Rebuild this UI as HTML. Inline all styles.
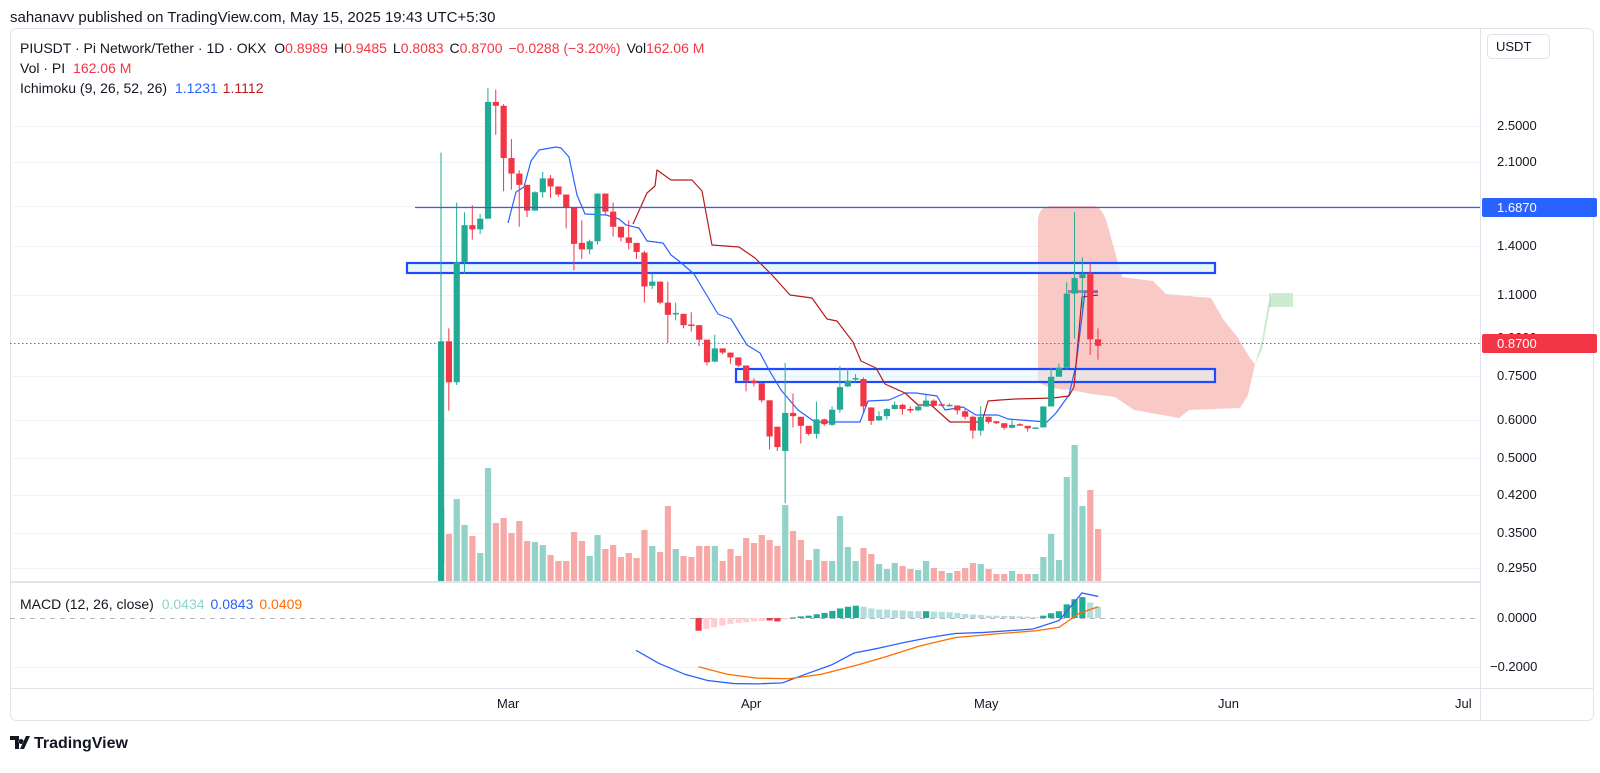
<!DOCTYPE html>
<html><head><meta charset="utf-8">
<style>
html,body{margin:0;padding:0;background:#fff;}
body{width:1600px;height:773px;overflow:hidden;font-family:"Liberation Sans",sans-serif;}
svg{display:block}
</style></head><body>
<svg id="s" width="1600" height="773" xmlns="http://www.w3.org/2000/svg" font-family="Liberation Sans, sans-serif">
<rect x="0" y="0" width="1600" height="773" fill="#fff"/>
<text x="10" y="22" font-size="15" fill="#131722">sahanavv published on TradingView.com, May 15, 2025 19:43 UTC+5:30</text>
<rect x="10.5" y="28.5" width="1583" height="692" rx="6" fill="#fff" stroke="#e0e3eb"/>
<g id="grid" stroke="#f0f3fa" stroke-width="1"></g>
<line x1="1480.5" y1="28" x2="1480.5" y2="720" stroke="#e0e3eb"/>
<line x1="10" y1="582" x2="1480" y2="582" stroke="#e0e3eb" stroke-width="2"/>
<line x1="10" y1="688.5" x2="1593" y2="688.5" stroke="#e0e3eb"/>
<line x1="10" y1="618.5" x2="1480" y2="618.5" stroke="#b2b5be" stroke-dasharray="5,5"/>
<g id="cloud"></g>
<g id="vol"></g>
<g id="boxes"></g>
<g id="lines"></g>
<g id="candles"></g>
<g id="macd"></g>
<line x1="10" y1="343.5" x2="1480" y2="343.5" stroke="#f23645" stroke-dasharray="1.5,2.5"/>
<line x1="415" y1="207.5" x2="1480" y2="207.5" stroke="#3b5de7" stroke-width="1.2"/>
<g font-size="13" fill="#131722">
<text x="1497" y="130">2.5000</text>
<text x="1497" y="166">2.1000</text>
<text x="1497" y="250">1.4000</text>
<text x="1497" y="299">1.1000</text>
<text x="1497" y="342">0.9000</text>
<text x="1497" y="380">0.7500</text>
<text x="1497" y="424">0.6000</text>
<text x="1497" y="462">0.5000</text>
<text x="1497" y="499">0.4200</text>
<text x="1497" y="537">0.3500</text>
<text x="1497" y="572">0.2950</text>
<text x="1497" y="622">0.0000</text>
<text x="1490" y="671">−0.2000</text>
<text x="497" y="708">Mar</text>
<text x="741" y="708">Apr</text>
<text x="974" y="708">May</text>
<text x="1218" y="708">Jun</text>
<text x="1455" y="708">Jul</text>
</g>
<rect x="1482" y="198" width="115" height="19" rx="2" fill="#2962ff"/>
<text x="1497" y="212" font-size="13" fill="#fff">1.6870</text>
<rect x="1482" y="334" width="115" height="19" rx="2" fill="#f23645"/>
<text x="1497" y="348" font-size="13" fill="#fff">0.8700</text>
<rect x="1487.5" y="34.5" width="62" height="24" rx="4" fill="#fff" stroke="#e0e3eb"/>
<text x="1496" y="51" font-size="13" fill="#131722">USDT</text>
<text x="20" y="53" font-size="14" fill="#131722">PIUSDT · Pi Network/Tether · 1D · OKX <tspan dx="4">O</tspan><tspan fill="#f23645">0.8989</tspan><tspan dx="6">H</tspan><tspan fill="#f23645">0.9485</tspan><tspan dx="6">L</tspan><tspan fill="#f23645">0.8083</tspan><tspan dx="6">C</tspan><tspan fill="#f23645">0.8700</tspan><tspan dx="6" fill="#f23645">−0.0288 (−3.20%)</tspan><tspan dx="6">Vol</tspan><tspan fill="#f23645">162.06 M</tspan></text>
<text x="20" y="73" font-size="14" fill="#131722">Vol · PI <tspan dx="4" fill="#f23645">162.06 M</tspan></text>
<text x="20" y="93" font-size="14" fill="#131722">Ichimoku (9, 26, 52, 26) <tspan dx="4" fill="#2962ff">1.1231</tspan><tspan dx="6" fill="#b71c1c">1.1112</tspan></text>
<text x="20" y="609" font-size="14" fill="#131722">MACD (12, 26, close) <tspan dx="4" fill="#8fd3c9">0.0434</tspan><tspan dx="6" fill="#2962ff">0.0843</tspan><tspan dx="6" fill="#ff6d00">0.0409</tspan></text>
<g transform="translate(10,733)">
<path d="M0 3h9v13h-4v-9h-5z M10 16l6-13h4l-6 13z M11 6a2.5 2.5 0 1 0 0.1 0z" fill="#131722"/>
</g>
<text x="34" y="748" font-size="16" font-weight="bold" fill="#131722">TradingView</text>
</svg>
<script>
var NS="http://www.w3.org/2000/svg";
function el(p,t,a){var e=document.createElementNS(NS,t);for(var k in a)e.setAttribute(k,a[k]);document.getElementById(p).appendChild(e);return e;}
[126,162,206,246,295,338,376,420,458,495,533,568,667].forEach(function(y){el("grid","line",{x1:10,x2:1480,y1:y+.5,y2:y+.5});});
var z1=[[1500,810,225,1500],[810,937,770,1025],[937,565,380,945],[565,450,410,600],[450,463,388,495],[463,430,415,478],[430,68,25,430],[68,80,30,170],[80,242,75,345],[242,290,183,340],[290,325,280,455],[325,405,325,425],[405,348,345,405],[348,305,285,365],[305,330,295,365],[330,355,330,362],[355,395,355,460],[395,508,395,590],[505,525,435,555],[525,500,495,540],[500,352,352,510],[352,408,352,420],[408,455,380,485],[455,488,455,500],[488,505,435,525],[505,533,505,555],[535,640,530,690],[638,625,600,648],[625,690,625,695],[690,728,625,815],[725,722,690,745],[725,760,725,770],[758,760,720,780],[760,805,760,825],[805,875,805,885],[873,832,790,875],[832,845,832,850],[845,860,845,880],[860,885,860,890],[885,932,885,965],[932,940,925,950],[940,993,940,1000],[993,1105,993,1145],[1075,1138,1075,1150]];
var z2=[[778,660,505,940],[660,670,600,705],[672,700,672,755],[700,725,700,730],[725,680,625,740],[680,695,678,700],[697,650,640,700],[650,580,515,660],[578,560,522,580],[555,552,540,565],[555,640,550,660],[643,685,643,697],[683,670,655,685],[670,648,645,680],[648,635,625,650],[635,648,632,665],[648,652,640,660],[652,640,635,655],[640,622,605,642],[622,638,618,642],[633,637,633,640],[637,635,630,640],[637,652,637,665],[655,672,648,680],[672,715,668,740],[715,672,640,730],[672,688,672,693],[686,692,685,695],[692,706,692,712],[706,697,678,708],[695,698,692,700],[700,708,700,718],[707,705,705,708],[705,640,640,705],[640,548,520,640],[548,520,508,540],[520,290,255,525],[290,242,38,430],[242,230,178,335],[230,432,195,480],[432,452,398,495]];
var C=[];
z1.forEach(function(r){C.push(r.map(function(v){return Math.min(580,80+v/3.1);}));});
z2.forEach(function(r){C.push(r.map(function(v){return 200+v/3.1;}));});
var V=[509,534,499,525,536,553,468,523,518,533,521,541,542,545,555,561,561,532,541,556,535,549,545,557,553,558,530,546,552,506,549,556,557,546,546,546,561,549,556,538,543,535,540,546,
505,531,540,560,549,561,561,516,547,561,548,554,564,569,563,566,569,570,561,568,571,573,571,568,563,564,569,574,574,571,574,574,574,557,534,560,477,445,506,490,529];
var x0=441,dx=657/(C.length-1);
C.forEach(function(c,i){
 var x=x0+i*dx,up=c[1]<=c[0];
 var col=up?"#22ab94":"#f23645";
 var vy=V[i]||575;
 el("vol","rect",{x:x-3,y:vy,width:6.2,height:581-vy,fill:up?(i==0?"#22ab94":"#92d2c8"):"#f7a9a7"});
 el("candles","line",{x1:x,x2:x,y1:c[2],y2:c[3],stroke:col,"stroke-width":1});
 var t=Math.min(c[0],c[1]),h=Math.max(1.5,Math.abs(c[0]-c[1]));
 el("candles","rect",{x:x-3,y:t,width:6.2,height:h,fill:col});
});
// cloud
el("cloud","path",{d:"M1038 382 L1038 222 Q1038 206 1052 206 L1096 206 Q1103 210 1107 223 L1122 277 L1153 281 L1166 294 L1211 298 L1223 319 L1238 338 L1250 358 L1255 364 L1248 395 L1240 408 L1189 410 L1179 418 L1134 410 L1115 397 L1092 394 L1070 390 L1050 388 Z",fill:"#f9c9c5"});
el("cloud","path",{d:"M1255 364 L1262 340 L1268 305 L1272 293 L1293 293 L1293 307 L1270 307 L1262 350 Z",fill:"#cdebd0"});
el("cloud","line",{x1:1270,y1:293,x2:1270,y2:307,stroke:"#a5d6a7"});
// boxes
el("boxes","rect",{x:407,y:263,width:808,height:10,fill:"#e4f5fa",stroke:"#1e4bff","stroke-width":2.2,"fill-opacity":0.8});
el("boxes","rect",{x:736,y:369,width:479,height:13,fill:"#e4f5fa",stroke:"#1e4bff","stroke-width":2.2,"fill-opacity":0.55});
function poly(pts,col,w){el("lines","polyline",{points:pts.map(function(p){return p.join(",");}).join(" "),fill:"none",stroke:col,"stroke-width":w||1.2,"stroke-linejoin":"round"});}
poly([[508,223],[516,192],[524,187],[531,161],[539,150],[556,147],[561,148],[569,157],[577,195],[585,214],[606,215],[619,219],[626,225],[639,228],[647,241],[663,243],[671,255],[679,261],[694,274],[718,314],[731,319],[747,345],[760,353],[769,370],[781,390],[798,410],[815,422],[860,422],[868,401],[889,400],[905,393],[916,393],[937,396],[945,410],[963,407],[976,415],[998,415],[1008,419],[1047,422],[1056,413],[1069,395],[1076,365],[1085,292],[1098,292]],"#2962ff");
poly([[633,224],[647,193],[655,186],[657,170],[671,180],[692,180],[702,191],[712,245],[739,247],[755,258],[773,276],[790,295],[812,298],[827,319],[837,321],[853,342],[861,361],[876,368],[885,384],[905,393],[918,405],[931,405],[950,422],[982,422],[988,401],[1000,400],[1015,399],[1053,398],[1069,396],[1074,387],[1082,297],[1098,295]],"#b71c1c");
el("lines","rect",{x:1068,y:290,width:30,height:3,fill:"#8e5aa0","fill-opacity":0.7});
// MACD
function mx(zx){return 636+(zx-80)*0.3255;}
function my(zy){return 581+(zy-25)*0.343;}
var H=[[272,170,"#f23645"],[296,165,"#ffcdd2"],[320,160,"#ffcdd2"],[345,155,"#ffcdd2"],[370,150,"#ffcdd2"],[395,147,"#ffcdd2"],[418,145,"#ffcdd2"],[442,143,"#ffcdd2"],[466,141,"#ffcdd2"],[490,140,"#f23645"],[514,143,"#f23645"],[538,137,"#ffcdd2"],
[562,131,"#22ab94"],[586,128,"#22ab94"],[610,126,"#22ab94"],[635,122,"#22ab94"],[659,118,"#22ab94"],[683,112,"#22ab94"],[707,105,"#22ab94"],[731,100,"#22ab94"],[755,97,"#22ab94"],[779,100,"#b2dfdb"],[803,105,"#b2dfdb"],[827,108,"#b2dfdb"],[851,108,"#b2dfdb"],[875,110,"#b2dfdb"],[899,111,"#b2dfdb"],[923,113,"#b2dfdb"],[947,113,"#b2dfdb"],[971,113,"#22ab94"],[995,114,"#b2dfdb"],[1019,115,"#b2dfdb"],[1043,116,"#b2dfdb"],[1067,118,"#b2dfdb"],[1091,121,"#b2dfdb"],[1115,123,"#b2dfdb"],[1139,124,"#b2dfdb"],[1163,126,"#b2dfdb"],[1187,126,"#b2dfdb"],[1211,127,"#b2dfdb"],[1235,127,"#b2dfdb"],[1259,128,"#b2dfdb"],[1283,129,"#b2dfdb"],[1307,130,"#b2dfdb"],[1331,126,"#22ab94"],[1355,119,"#22ab94"],[1379,113,"#22ab94"],[1403,93,"#22ab94"],[1427,78,"#22ab94"],[1451,72,"#22ab94"],[1475,88,"#b2dfdb"],[1499,100,"#b2dfdb"]];
var zy0=my(133);
H.forEach(function(h){var x=mx(h[0]),y=my(h[1]);el("macd","rect",{x:x-3,y:Math.min(y,zy0),width:6.2,height:Math.max(1,Math.abs(y-zy0)),fill:h[2]});});
function mpoly(pts,col){el("macd","polyline",{points:pts.map(function(p){return mx(p[0])+","+my(p[1]);}).join(" "),fill:"none",stroke:col,"stroke-width":1.3});}
mpoly([[80,227],[150,265],[230,297],[300,315],[380,324],[450,325],[530,322],[600,297],[680,270],[750,235],[820,222],[900,205],[980,190],[1060,178],[1150,175],[1300,165],[1380,140],[1450,60],[1500,70]],"#2962ff");
mpoly([[272,275],[360,297],[450,308],[550,310],[650,297],[760,270],[850,245],[950,215],[1060,190],[1200,178],[1310,170],[1380,160],[1440,120],[1500,100]],"#ff6d00");
</script>
</body></html>
